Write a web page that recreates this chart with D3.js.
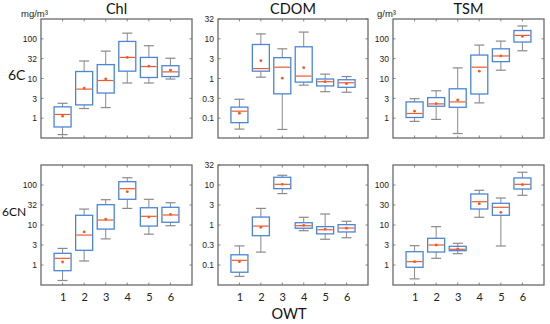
<!DOCTYPE html>
<html><head><meta charset="utf-8">
<script src="https://cdn.jsdelivr.net/npm/d3@7"></script>
<style>body{margin:0;background:#fff}svg{display:block}</style>
</head><body>
<svg id="c" width="550" height="324"></svg>
<script>
// categories (OWT)
const owt = [1, 2, 3, 4, 5, 6];
// each row: [whiskerLow, q1, median, q3, whiskerHigh, mean]
const chl6C  = [[0.385,0.6,1.24,1.93,2.37,1.12],[1.75,2.16,5.4,15,27.6,5.75],[1.85,4.3,8.9,22.4,49,9.7],[7.7,15.3,34,86,139,34],[7.7,10.6,20,34,67,20.4],[9.7,11.2,14.7,21,32.4,16.2]];
const cdom6C = [[0.053,0.077,0.15,0.19,0.3,0.133],[1.08,1.53,1.78,7.2,13.3,2.8],[0.052,0.41,1.93,3.35,5.6,1.02],[0.68,0.81,1.15,6.3,14.8,1.88],[0.465,0.65,0.83,0.97,1.29,0.83],[0.45,0.6,0.78,0.93,1.12,0.74]];
const tsm6C  = [[0.83,1.04,1.31,2.57,3.1,1.5],[0.93,2.0,2.29,3.3,4.9,2.33],[0.41,1.88,2.57,5.5,18.5,2.88],[2.43,4.07,19.3,39,69.6,15.3],[16.2,26.6,37,56,87.6,37],[50,83,122,162,211,115]];
const chl6CN = [[0.41,0.72,1.47,1.96,2.6,1.19],[1.26,2.33,5.6,17.5,25,6.7],[4.5,7.9,13.3,32.2,42.9,14.1],[26,43.9,81,121,152,68],[5.9,9.4,16.5,27,43.9,15.8],[9.6,11.7,17.8,27.7,36,18.5]];
const cdom6CN= [[0.052,0.066,0.131,0.18,0.3,0.121],[0.21,0.54,0.94,1.58,2.6,0.876],[6.1,8.1,10.4,15.6,17.5,10.4],[0.72,0.83,0.96,1.14,1.56,0.98],[0.44,0.6,0.76,0.91,1.88,0.79],[0.48,0.67,0.84,1.02,1.24,0.83]];
const tsm6CN = [[0.45,0.876,1.21,2.15,3.04,1.21],[1.47,2.11,3.16,4.65,9.1,3.16],[1.92,2.28,2.47,2.93,3.49,2.51],[15.6,25.1,38.2,59.6,73.7,34],[2.99,17.5,27.7,34.9,47.3,20.8],[55.3,79.4,104,150,208,102]];
// tick values and labels
const chlTicks = [1, 3.1623, 10, 31.623, 100];
const chlTickLabels = ["1", "3", "10", "32", "100"];
const tsmTicks = [1, 3.1623, 10, 31.623, 100];
const tsmTickLabels = ["1", "3", "10", "30", "100"];
const cdomTicks = [0.1, 0.31623, 1, 3.1623, 10, 31.623];
const cdomTickLabels = ["0.1", "0.3", "1", "3", "10", "32"];
const titles = ["Chl", "CDOM", "TSM"];
const rowLabels = ["6C", "6CN"];
const units = ["mg/m³", "", "g/m³"];

const svg = d3.select("#c");
const colX = [[41,192],[218,368],[393,544]];
const rowY = [[19,138],[165,285]];
const unitX = [21, 0, 377];
const panelDefs = [
  {data: chl6C,  ticks: chlTicks,  labels: chlTickLabels,  dom: [Math.pow(10,-0.5), Math.pow(10,2.5)]},
  {data: cdom6C, ticks: cdomTicks, labels: cdomTickLabels, dom: [Math.pow(10,-1.5), Math.pow(10,1.5)]},
  {data: tsm6C,  ticks: tsmTicks,  labels: tsmTickLabels,  dom: [Math.pow(10,-0.5), Math.pow(10,2.5)]},
  {data: chl6CN, ticks: chlTicks,  labels: chlTickLabels,  dom: [Math.pow(10,-0.5), Math.pow(10,2.5)]},
  {data: cdom6CN,ticks: cdomTicks, labels: cdomTickLabels, dom: [Math.pow(10,-1.5), Math.pow(10,1.5)]},
  {data: tsm6CN, ticks: tsmTicks,  labels: tsmTickLabels,  dom: [Math.pow(10,-0.5), Math.pow(10,2.5)]}
];
const blue = "#4a86d6", red = "#f05a2a", gray = "#8a8a8a", frame = "#6a6a6a";
const tickFont = "'Liberation Sans', Arial, sans-serif";
const titleFont = "Lato, 'Open Sans', sans-serif";

panelDefs.forEach((p, i) => {
  const r = Math.floor(i / 3), c = i % 3;
  const x = d3.scaleLinear().domain([0, 7]).range(colX[c]);
  const y = d3.scaleLog().domain(p.dom).range([rowY[r][1], rowY[r][0]]);
  const g = svg.append("g");
  const bw = 17;

  // inner ticks
  const xt = g.append("g");
  owt.forEach(k => {
    xt.append("line").attr("x1", x(k)).attr("x2", x(k)).attr("y1", rowY[r][0]).attr("y2", rowY[r][0] + 2.5).attr("stroke", frame).attr("stroke-width", 0.8);
    xt.append("line").attr("x1", x(k)).attr("x2", x(k)).attr("y1", rowY[r][1]).attr("y2", rowY[r][1] - 2.5).attr("stroke", frame).attr("stroke-width", 0.8);
  });
  p.ticks.forEach(t => {
    xt.append("line").attr("x1", colX[c][0]).attr("x2", colX[c][0] + 2.5).attr("y1", y(t)).attr("y2", y(t)).attr("stroke", frame).attr("stroke-width", 0.8);
    xt.append("line").attr("x1", colX[c][1]).attr("x2", colX[c][1] - 2.5).attr("y1", y(t)).attr("y2", y(t)).attr("stroke", frame).attr("stroke-width", 0.8);
  });
  // y tick labels
  const yAxis = d3.axisLeft(y).tickValues(p.ticks).tickFormat((d, j) => p.labels[j]).tickSize(0).tickPadding(4);
  const ya = g.append("g").attr("transform", `translate(${colX[c][0]},0)`).call(yAxis);
  ya.select(".domain").remove();
  ya.selectAll("text").attr("font-size", 8.5).attr("font-family", tickFont).attr("fill", "#222");

  // boxes
  p.data.forEach((d, j) => {
    const cx = x(owt[j]);
    const [wl, q1, md, q3, wh, mn] = d;
    g.append("line").attr("x1", cx).attr("x2", cx).attr("y1", y(wh)).attr("y2", y(q3)).attr("stroke", gray).attr("stroke-width", 1);
    g.append("line").attr("x1", cx).attr("x2", cx).attr("y1", y(q1)).attr("y2", y(wl)).attr("stroke", gray).attr("stroke-width", 1);
    g.append("line").attr("x1", cx - 5).attr("x2", cx + 5).attr("y1", y(wh)).attr("y2", y(wh)).attr("stroke", gray).attr("stroke-width", 1.2);
    g.append("line").attr("x1", cx - 5).attr("x2", cx + 5).attr("y1", y(wl)).attr("y2", y(wl)).attr("stroke", gray).attr("stroke-width", 1.2);
    g.append("rect").attr("x", cx - bw / 2).attr("y", y(q3)).attr("width", bw).attr("height", y(q1) - y(q3))
      .attr("fill", "none").attr("stroke", blue).attr("stroke-width", 1.3);
    g.append("line").attr("x1", cx - bw / 2 + 0.7).attr("x2", cx + bw / 2 - 0.7).attr("y1", y(md)).attr("y2", y(md)).attr("stroke", red).attr("stroke-width", 1.2);
    g.append("circle").attr("cx", cx).attr("cy", y(mn)).attr("r", 1.4).attr("fill", red);
  });

  // frame
  g.append("rect").attr("x", colX[c][0]).attr("y", rowY[r][0]).attr("width", colX[c][1] - colX[c][0]).attr("height", rowY[r][1] - rowY[r][0])
    .attr("fill", "none").attr("stroke", frame).attr("stroke-width", 1.3);

  // x labels on bottom row
  if (r === 1) {
    const xAxis = d3.axisBottom(x).tickValues(owt).tickFormat(d3.format("d")).tickSize(0).tickPadding(8);
    const xa = g.append("g").attr("transform", `translate(0,${rowY[r][1]})`).call(xAxis);
    xa.select(".domain").remove();
    xa.selectAll("text").attr("font-size", 11).attr("font-family", titleFont).attr("fill", "#222");
  }
  // titles & units on top row
  if (r === 0) {
    svg.append("text").attr("x", (colX[c][0] + colX[c][1]) / 2).attr("y", 14).attr("text-anchor", "middle")
      .attr("font-size", 14.5).attr("font-family", titleFont).attr("fill", "#111").text(titles[c]);
    if (units[c]) {
      svg.append("text").attr("x", unitX[c]).attr("y", 17).attr("text-anchor", "start")
        .attr("font-size", 9.5).attr("font-family", tickFont).attr("fill", "#222").text(units[c]);
    }
  }
});

// row labels
svg.append("text").attr("x", 8).attr("y", 80).attr("font-size", 14).attr("font-family", titleFont).attr("fill", "#111").text(rowLabels[0]);
svg.append("text").attr("x", 2).attr("y", 216).attr("font-size", 12).attr("font-family", titleFont).attr("fill", "#111").text(rowLabels[1]);
// x axis title
svg.append("text").attr("x", 289).attr("y", 319).attr("text-anchor", "middle").attr("font-size", 14.5).attr("font-family", titleFont).attr("fill", "#111").text("OWT");
</script>
</body></html>
